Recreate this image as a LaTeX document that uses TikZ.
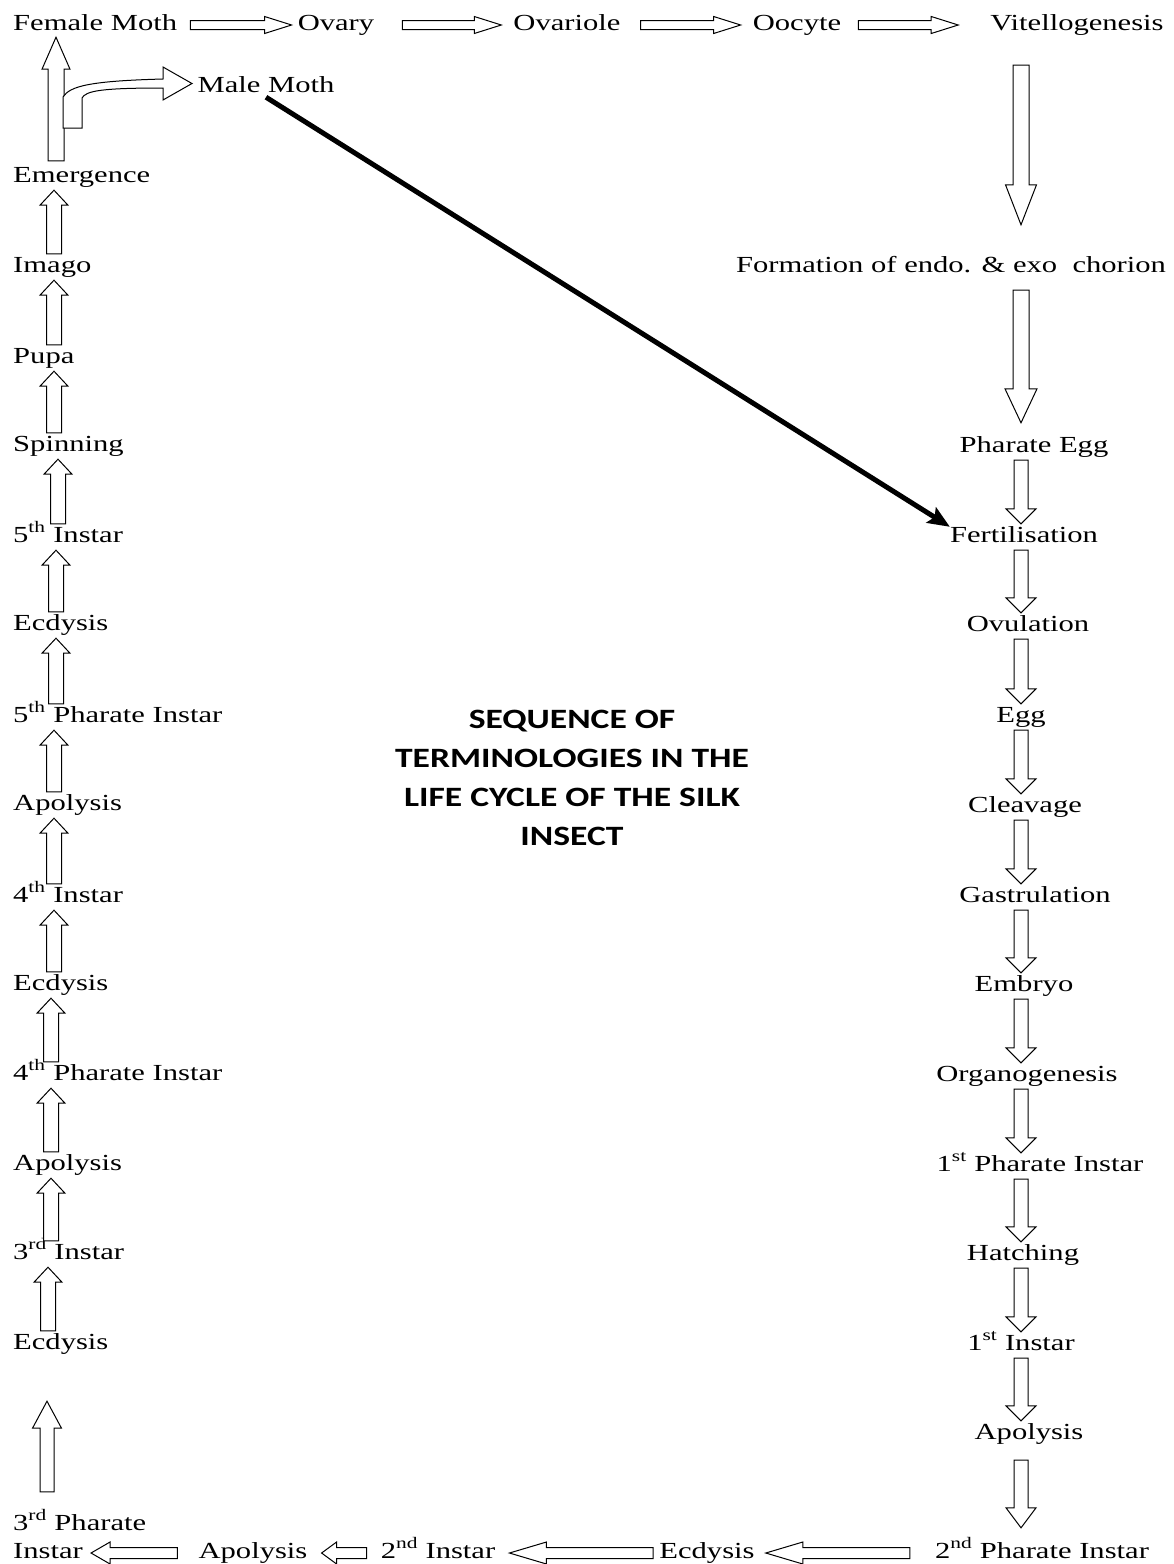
\documentclass[tikz,border=0pt]{standalone}
\usepackage{fontspec}
\setmainfont{Liberation Serif}[FakeStretch=1.33]
\newfontfamily\titlefont{Carlito}[FakeStretch=1.27]
\usetikzlibrary{calc, arrows.meta}

\tikzset{
  blkw/.store in=\blkw, blkh/.store in=\blkh, blkl/.store in=\blkl,
  gapa/.store in=\blkga, gapb/.store in=\blkgb,
  blkw=7pt, blkh=15pt, blkl=15pt, gapa=3pt, gapb=3pt
}

\begin{document}
\begin{tikzpicture}[x=1pt, y=-1pt,
  lbl/.style={font=\fontsize{23}{28}\selectfont, inner sep=0pt, text height=15pt, text depth=5pt},
  ttl/.style={font=\titlefont\bfseries\fontsize{28}{39}\selectfont, align=center, inner sep=0pt},
  blk/.style={draw, fill=white, line width=1pt, line join=miter,
    to path={(\tikztostart) coordinate (bs) (\tikztotarget) coordinate (bt)
      ($(bs)!\blkga!(bt)$) coordinate (ba) ($(bt)!\blkgb!(bs)$) coordinate (bb)
      ($(bb)!\blkl!(ba)$) coordinate (bc)
      ($(ba)!\blkw!90:(bb)$) -- ($(bc)!\blkw!90:(bb)$) -- ($(bc)!\blkh!90:(bb)$)
      -- (bb) -- ($(bc)!\blkh!-90:(bb)$) -- ($(bc)!\blkw!-90:(bb)$)
      -- ($(ba)!\blkw!-90:(bb)$) -- cycle}},
  hblk/.style={blk, blkw=4.5pt, blkh=8.5pt, blkl=27pt},
  bblk/.style={blk, blkw=5.5pt, blkh=11pt, blkl=37pt},
  lblk/.style={blk, blkw=7.5pt, blkh=14pt, blkl=15pt},
  rblk/.style={blk, blkw=7pt, blkh=15pt, blkl=15pt},
  mline/.style={line width=5pt, -{Stealth[length=22pt, width=18pt, inset=4pt]}}
]
  \fill[white] (0,0) rectangle (1174,1564);
  \useasboundingbox (0,0) rectangle (1174,1564);

  \node[lbl, anchor=base west] (fmoth) at (13,30) {Female Moth};
  \node[lbl, anchor=base] (ovary) at (336,30) {Ovary};
  \node[lbl, anchor=base] (ovl) at (567,30) {Ovariole};
  \node[lbl, anchor=base] (ooc) at (797,30) {Oocyte};
  \node[lbl, anchor=base] (vit) at (1077,30) {Vitellogenesis};
  \node[lbl, anchor=base] (mmoth) at (266,92) {Male Moth};

  \node[lbl, anchor=base west] (emerg) at (13,182) {Emergence};
  \node[lbl, anchor=base west] (imago) at (13,272) {Imago};
  \node[lbl, anchor=base west] (pupa) at (13,363) {Pupa};
  \node[lbl, anchor=base west] (spin) at (13,451) {Spinning};
  \node[lbl, anchor=base west] (inst5) at (13,542) {5\textsuperscript{th} Instar};
  \node[lbl, anchor=base west] (ecd5) at (13,630) {Ecdysis};
  \node[lbl, anchor=base west] (ph5) at (13,722) {5\textsuperscript{th} Pharate Instar};
  \node[lbl, anchor=base west] (apo5) at (13,810) {Apolysis};
  \node[lbl, anchor=base west] (inst4) at (13,902) {4\textsuperscript{th} Instar};
  \node[lbl, anchor=base west] (ecd4) at (13,990) {Ecdysis};
  \node[lbl, anchor=base west] (ph4) at (13,1080) {4\textsuperscript{th} Pharate Instar};
  \node[lbl, anchor=base west] (apo4) at (13,1170) {Apolysis};
  \node[lbl, anchor=base west] (inst3) at (13,1259) {3\textsuperscript{rd} Instar};
  \node[lbl, anchor=base west] (ecd3) at (13,1349) {Ecdysis};
  \node[lbl, anchor=base west] (ph3) at (13,1530) {3\textsuperscript{rd} Pharate};
  \node[lbl, anchor=base west] (ph3i) at (13,1558) {Instar};

  \node[lbl, anchor=base] (apo2) at (253,1558) {Apolysis};
  \node[lbl, anchor=base] (inst2) at (438,1558) {2\textsuperscript{nd} Instar};
  \node[lbl, anchor=base] (ecd2) at (707,1558) {Ecdysis};
  \node[lbl, anchor=base] (ph2) at (1042,1558) {2\textsuperscript{nd} Pharate Instar};

  \node[lbl, anchor=base] (form) at (951,272) {Formation of endo. \& exo\ \ chorion};
  \node[lbl, anchor=base] (pegg) at (1034,452) {Pharate Egg};
  \node[lbl, anchor=base] (fert) at (1024,542) {Fertilisation};
  \node[lbl, anchor=base] (ovul) at (1028,631) {Ovulation};
  \node[lbl, anchor=base] (egg) at (1021,722) {Egg};
  \node[lbl, anchor=base] (clv) at (1025,812) {Cleavage};
  \node[lbl, anchor=base] (gast) at (1035,902) {Gastrulation};
  \node[lbl, anchor=base] (emb) at (1024,991) {Embryo};
  \node[lbl, anchor=base] (org) at (1027,1081) {Organogenesis};
  \node[lbl, anchor=base] (ph1) at (1040,1171) {1\textsuperscript{st} Pharate Instar};
  \node[lbl, anchor=base] (hatch) at (1023,1260) {Hatching};
  \node[lbl, anchor=base] (inst1) at (1021,1350) {1\textsuperscript{st} Instar};
  \node[lbl, anchor=base] (apo1) at (1029,1439) {Apolysis};

  \node[ttl] (title) at (572,778) {SEQUENCE OF\\TERMINOLOGIES IN THE\\LIFE CYCLE OF THE SILK\\INSECT};

  \draw[hblk, gapa=13pt, gapb=6pt] (fmoth.east) to (ovary.west);
  \draw[hblk, gapa=28pt, gapb=12pt] (ovary.east) to (ovl.west);
  \draw[hblk, gapa=20pt, gapb=12pt] (ovl.east) to (ooc.west);
  \draw[hblk, gapa=17pt, gapb=32pt] (ooc.east) to (vit.west);

  \draw[rblk, blkw=8pt, blkh=15.5pt, blkl=40pt, gapa=30pt, gapb=32pt] (vit.south -| 1021,0) to (form.north -| 1021,0);
  \draw[rblk, blkw=8pt, blkh=16pt, blkl=34pt, gapa=13pt, gapb=14pt] (form.south -| 1021,0) to (pegg.north -| 1021,0);
  \draw[rblk] (pegg.south -| 1021,0) to (fert.north -| 1021,0);
  \draw[rblk] (fert.south -| 1021,0) to (ovul.north -| 1021,0);
  \draw[rblk] (ovul.south -| 1021,0) to (egg.north -| 1021,0);
  \draw[rblk] (egg.south -| 1021,0) to (clv.north -| 1021,0);
  \draw[rblk] (clv.south -| 1021,0) to (gast.north -| 1021,0);
  \draw[rblk] (gast.south -| 1021,0) to (emb.north -| 1021,0);
  \draw[rblk] (emb.south -| 1021,0) to (org.north -| 1021,0);
  \draw[rblk] (org.south -| 1021,0) to (ph1.north -| 1021,0);
  \draw[rblk] (ph1.south -| 1021,0) to (hatch.north -| 1021,0);
  \draw[rblk] (hatch.south -| 1021,0) to (inst1.north -| 1021,0);
  \draw[rblk] (inst1.south -| 1021,0) to (apo1.north -| 1021,0);
  \draw[rblk, blkl=20pt, gapa=16pt, gapb=15pt] (apo1.south -| 1021,0) to (ph2.north -| 1021,0);

  \draw[bblk, gapa=25pt, gapb=11pt] (ph2.west) to (ecd2.east);
  \draw[bblk, gapa=6pt, gapb=14pt] (ecd2.west) to (inst2.east);
  \draw[bblk, blkl=15pt, gapa=14pt, gapb=14pt] (inst2.west) to (apo2.east);
  \draw[bblk, blkl=19pt, gapa=21pt, gapb=8pt] (apo2.west) to (ph3i.east);

  \draw[lblk, blkw=7pt, blkh=14.5pt, blkl=27pt, gapa=23pt, gapb=47pt] (ph3.north -| 47,0) to (ecd3.south -| 47,0);
  \draw[lblk] (ecd3.north -| 48,0) to (inst3.south -| 48,0);
  \draw[lblk] (inst3.north -| 51,0) to (apo4.south -| 51,0);
  \draw[lblk] (apo4.north -| 51,0) to (ph4.south -| 51,0);
  \draw[lblk] (ph4.north -| 51,0) to (ecd4.south -| 51,0);
  \draw[lblk] (ecd4.north -| 54,0) to (inst4.south -| 54,0);
  \draw[lblk] (inst4.north -| 54,0) to (apo5.south -| 54,0);
  \draw[lblk] (apo5.north -| 54,0) to (ph5.south -| 54,0);
  \draw[lblk] (ph5.north -| 56,0) to (ecd5.south -| 56,0);
  \draw[lblk] (ecd5.north -| 56,0) to (inst5.south -| 56,0);
  \draw[lblk] (inst5.north -| 58,0) to (spin.south -| 58,0);
  \draw[lblk] (spin.north -| 54,0) to (pupa.south -| 54,0);
  \draw[lblk] (pupa.north -| 54,0) to (imago.south -| 54,0);
  \draw[lblk] (imago.north -| 54,0) to (emerg.south -| 54,0);
  \draw[lblk, blkw=8pt, blkl=32pt, gapa=6pt, gapb=2pt] (emerg.north -| 56,0) to (fmoth.south -| 56,0);

  \draw[line width=1pt, fill=white, line join=miter] (63,128) -- (63,97)
    .. controls (70,86) and (90,81) .. (163,79) -- (163,67) -- (192,83.5) -- (163,100) -- (163,88)
    .. controls (100,88) and (86,91) .. (82,98) -- (82,128) -- cycle;

  \draw[mline] (mmoth.south) -- (fert.north west);
\end{tikzpicture}
\end{document}
